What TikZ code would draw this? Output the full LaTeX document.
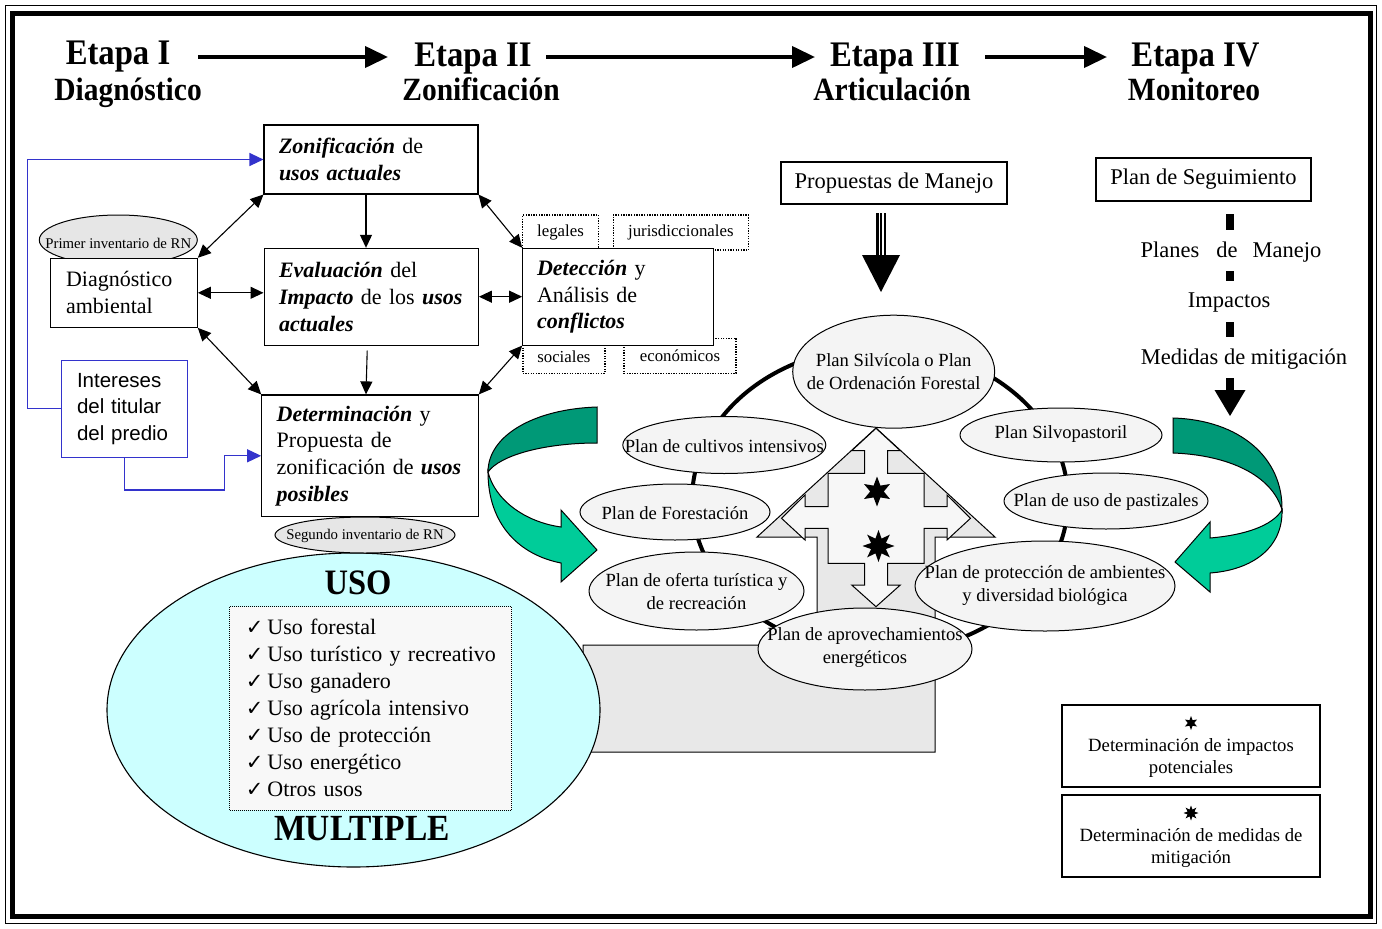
\documentclass[tikz,border=0pt]{standalone}
\usepackage{fontspec}
\setmainfont{Liberation Serif}
\newfontfamily\sansf{Liberation Sans}
\newfontfamily\dejavu{DejaVu Sans}
\usetikzlibrary{arrows.meta,shapes.geometric,calc}
\definecolor{ellfill}{RGB}{244,244,244}
\definecolor{greyfill}{RGB}{232,232,232}
\definecolor{innerfill}{RGB}{247,247,247}
\definecolor{usofill}{RGB}{204,255,255}
\definecolor{listfill}{RGB}{248,248,248}
\definecolor{gdark}{RGB}{0,153,119}
\definecolor{glight}{RGB}{0,204,153}
\definecolor{bl}{RGB}{51,51,204}
\definecolor{invfill}{RGB}{230,230,230}
\newcommand{\fsz}[2]{\fontsize{#1}{#2}\selectfont}
\newcommand{\bitx}[1]{\textbf{\textit{#1}}}
\newcommand{\chkitem}[1]{\mbox{{\dejavu\fsz{21}{21}✓}\hspace{4pt}#1}}
\begin{document}
\begin{tikzpicture}[x=1pt,y=-1pt,
  box/.style={draw, line width=1.1pt, fill=white, rectangle, inner ysep=0pt, align=left},
  ellp/.style={draw, line width=1pt, fill=ellfill},
  plantext/.style={inner sep=0pt, align=center, font=\fsz{18.6}{23}},
  dotbox/.style={draw, dash pattern=on 1.3pt off 1.3pt, line width=1.5pt, fill=white, inner sep=0pt, font=\fsz{16.8}{18}},
  biarr/.style={{Triangle[length=13pt,width=12pt]}-{Triangle[length=13pt,width=12pt]}, line width=1.1pt},
  onearr/.style={-{Triangle[length=13pt,width=12pt]}, line width=1.1pt},
  bluearr/.style={draw=bl, line width=1.2pt, -{Triangle[length=14pt,width=13pt]}},
  headarr/.style={line width=4pt, -{Triangle[length=23pt,width=21pt]}},
  head/.style={anchor=base, inner sep=0pt, font=\bfseries\fsz{32.7}{36}},
  subh/.style={anchor=base, inner sep=0pt, font=\bfseries\fsz{29.5}{33}},
  invell/.style={draw, line width=1pt, fill=invfill},
  invtext/.style={inner sep=0pt, font=\fsz{14.8}{16}},
  plain/.style={inner sep=0pt, font=\fsz{22.5}{25}}
]
\useasboundingbox (0,0) rectangle (1382,929);
\fill[white] (0,0) rectangle (1382,929);
% frame
\draw[line width=1.5pt] (5.5,5.5) rectangle (1376.5,923.5);
\draw[line width=5pt] (12.5,13.5) rectangle (1370,916.5);

% headings
\node[head] (e1) at (118,64) {\scalebox{1}[1.1]{Etapa I}};
\node[subh] (s1) at (128,100) {\scalebox{1}[1.1]{Diagnóstico}};
\node[head] (e2) at (473,66) {\scalebox{1}[1.1]{Etapa II}};
\node[subh] (s2) at (481,100) {\scalebox{1}[1.1]{Zonificación}};
\node[head] (e3) at (895,66) {\scalebox{1}[1.1]{Etapa III}};
\node[subh] (s3) at (892,100) {\scalebox{1}[1.1]{Articulación}};
\node[head] (e4) at (1195.5,66) {\scalebox{1}[1.1]{Etapa IV}};
\node[subh] (s4) at (1194,100) {\scalebox{1}[1.1]{Monitoreo}};
\coordinate (h1a) at (198,57); \coordinate (h1b) at (388,57);
\coordinate (h2a) at (546,57); \coordinate (h2b) at (815,57);
\coordinate (h3a) at (985,57); \coordinate (h3b) at (1107,57);
\draw[headarr] (h1a) -- (h1b);
\draw[headarr] (h2a) -- (h2b);
\draw[headarr] (h3a) -- (h3b);

% left part
\filldraw[invell] (118.3,240) ellipse [x radius=79, y radius=25];
\node[invtext] (inv1) at (118.3,243) {Primer inventario de RN};
\node[box, font=\fsz{22}{27}, text width=116pt, inner xsep=15.3pt, minimum height=69pt] (diag) at (124,292.8) {Diagnóstico\\ambiental};
\node[box, draw=bl, font=\sansf\fsz{20.5}{26.5}, text width=95pt, inner xsep=15.3pt, minimum height=97.3pt] (int) at (124.5,408.7) {Intereses\\del titular\\del predio};
\node[box, font=\fsz{22}{27}, text width=184pt, inner xsep=15pt, minimum height=69pt] (zon) at (371,159.5) {\bitx{Zonificación} de\\\bitx{usos actuales}};
\node[box, font=\fsz{22}{27}, text width=184.3pt, inner xsep=15pt, minimum height=96.7pt] (eval) at (371.2,296.7) {\bitx{Evaluación} del\\\mbox{\bitx{Impacto} de los \bitx{usos}}\\\bitx{actuales}};
\node[box, font=\fsz{22}{26.7}, text width=186.6pt, inner xsep=15pt, minimum height=121.7pt] (det) at (370,455.8) {\bitx{Determinación} y\\Propuesta de\\\mbox{zonificación de \bitx{usos}}\\\bitx{posibles}};
\node[dotbox, minimum width=75.6pt, minimum height=35pt] (leg) at (560.5,232.5) {legales};
\node[dotbox, minimum width=135pt, minimum height=35pt] (jur) at (680.8,232.5) {jurisdiccionales};
\node[dotbox, minimum width=82.3pt, minimum height=33.3pt] (soc) at (563.9,356.7) {sociales};
\node[dotbox, minimum width=112pt, minimum height=35pt] (eco) at (680,355.8) {económicos};
\node[box, font=\fsz{22}{26.7}, text width=162pt, inner xsep=14.3pt, minimum height=96.7pt] (detc) at (618,296.7) {\bitx{Detección} y\\Análisis de\\\bitx{conflictos}};

\draw[onearr] ([xshift=-5pt]zon.south) -- ([xshift=-5pt]zon.south |- eval.north);
\draw[onearr] ([xshift=-4pt,yshift=-5pt]eval.south) -- ([xshift=-4pt]det.north);
\draw[biarr] (diag.north east) -- (zon.south west);
\draw[biarr] (diag.east) -- (diag.east -| eval.west);
\draw[biarr] (diag.south east) -- (det.north west);
\draw[biarr] (zon.south east) -- (detc.north west);
\draw[biarr] (eval.east) -- (eval.east -| detc.west);
\draw[biarr] (det.north east) -- (detc.south west);
\draw[bluearr] (int.west) -- ++(-33.4,0) |- (zon.west);
\draw[bluearr] (int.south) |- (224.3,490) |- (det.west);

% central house
\filldraw[fill=greyfill, line width=1pt] (757,537) -- (876,428) -- (995,537) -- (935,537) -- (935,752) -- (583,752) -- (583,645) -- (817,645) -- (817,537) -- cycle;
\filldraw[fill=innerfill, line width=1pt] (876,428.3) -- (851.7,450.7) -- (864.5,450.7) -- (864.5,473.3) -- (828,473.3) -- (828,506.7) -- (805,506.7) -- (805,495) -- (781.5,518.3) -- (805,540) -- (805,528.3) -- (828,528.3) -- (828,563.3) -- (864.5,563.3) -- (864.5,585) -- (851.7,585) -- (876,606.7) -- (900.3,585) -- (887.5,585) -- (887.5,563.3) -- (924,563.3) -- (924,528.3) -- (947,528.3) -- (947,540) -- (970.5,518.3) -- (947,495) -- (947,506.7) -- (924,506.7) -- (924,473.3) -- (887.5,473.3) -- (887.5,450.7) -- (900.3,450.7) -- cycle;
\node[star, star points=6, star point ratio=2.2, fill=black, inner sep=0pt, minimum size=30pt] (st1) at (877,491.5) {};
\node[star, star points=8, star point ratio=2.0, fill=black, inner sep=0pt, minimum size=32pt] (st2) at (878.5,546) {};
\draw[line width=4pt] (880,500) ellipse [x radius=188, y radius=153];

\filldraw[ellp] (893.7,371.7) ellipse [x radius=101, y radius=56.5];
\node[plantext] (silv) at (893.7,372) {Plan Silvícola o Plan\\de Ordenación Forestal};
\filldraw[ellp] (724.3,445) ellipse [x radius=101.5, y radius=28.5];
\node[plantext] (cult) at (724.3,446) {Plan de cultivos intensivos};
\filldraw[ellp] (675,512) ellipse [x radius=95, y radius=28];
\node[plantext] (fore) at (675,513) {Plan de Forestación};
\filldraw[ellp] (696.5,591) ellipse [x radius=107.5, y radius=39];
\node[plantext] (ofer) at (696.5,591.5) {Plan de oferta turística y\\de recreación};
\filldraw[ellp] (865,649) ellipse [x radius=107, y radius=41];
\node[plantext] (apro) at (865,647.5) {Plan de aprovechamientos\\energéticos};
\filldraw[ellp] (1061,435) ellipse [x radius=101, y radius=27];
\node[plantext] (silvo) at (1061,434) {Plan Silvopastoril};
\filldraw[ellp] (1106,501) ellipse [x radius=102, y radius=28];
\node[plantext] (past) at (1106,502) {Plan de uso de pastizales};
\filldraw[ellp] (1045,586) ellipse [x radius=130, y radius=45];
\node[plantext] (prot) at (1045,586) {Plan de protección de ambientes\\y diversidad biológica};

% uso multiple
\filldraw[draw, fill=usofill, line width=1.1pt] (353.5,710) ellipse [x radius=246.5, y radius=157];
\filldraw[invell] (365,535) ellipse [x radius=90, y radius=18];
\node[invtext] (inv2) at (365,535.5) {Segundo inventario de RN};
\node[draw, dash pattern=on 1pt off 1pt, line width=0.9pt, fill=listfill, text width=250pt, inner xsep=16pt, inner ysep=0pt, minimum height=203.3pt, align=left, font=\fsz{22}{27}] (lst) at (370.8,708.3) {\chkitem{Uso forestal}\\\chkitem{Uso turístico y recreativo}\\\chkitem{Uso ganadero}\\\chkitem{Uso agrícola intensivo}\\\chkitem{Uso de protección}\\\chkitem{Uso energético}\\\chkitem{Otros usos}};
\node[inner sep=0pt, font=\bfseries\fsz{32.5}{36}] (usot) at (358,582.5) {\scalebox{1}[1.1]{USO}};
\node[inner sep=0pt, font=\bfseries\fsz{33.5}{36}] (mult) at (362,829) {\scalebox{1}[1.1]{MULTIPLE}};

% green arrows
\filldraw[fill=gdark, line width=1pt] (597,407) .. controls (535,409) and (488,435) .. (488,472) .. controls (500,455) and (545,443) .. (597,443) -- cycle;
\filldraw[fill=glight, line width=1pt] (488,472) .. controls (488,525) and (520,555) .. (561,563) -- (561,582) -- (597,550) -- (561,510) -- (561,527) .. controls (525,522) and (495,500) .. (488,472) -- cycle;
\filldraw[fill=gdark, line width=1pt] (1173,418) .. controls (1240,420) and (1283,458) .. (1282,510) .. controls (1272,475) and (1228,455) .. (1173,453) -- cycle;
\filldraw[fill=glight, line width=1pt] (1282,510) .. controls (1283,548) and (1252,570) .. (1210,573) -- (1210,592) -- (1175,562) -- (1210,522) -- (1210,538) .. controls (1245,535) and (1272,526) .. (1282,510) -- cycle;

% articulacion top
\node[box, font=\fsz{22.5}{25}, minimum width=226pt, minimum height=42pt, align=center] (prop) at (894,183) {Propuestas de Manejo};
\coordinate (ta) at (881,213); \coordinate (tb) at (881,256); \coordinate (tc) at (881,292);
\draw[line width=3pt] ([xshift=-3.5pt]ta) -- ([xshift=-3.5pt]tb);
\draw[line width=1.3pt] (ta) -- (tb);
\draw[line width=2.5pt] ([xshift=3.8pt]ta) -- ([xshift=3.8pt]tb);
\fill ([xshift=-19pt,yshift=1pt]tb) -- ([xshift=19pt,yshift=1pt]tb) -- (tc) -- cycle;

% monitoreo
\node[box, font=\fsz{22.5}{25}, minimum width=215pt, minimum height=43pt, align=center] (seg) at (1203.5,179.5) {Plan de Seguimiento};
\node[plain] (pm) at (1231,252) {Planes\hspace{17pt}de\hspace{15pt}Manejo};
\node[plain] (imp) at (1229,303) {Impactos};
\node[plain] (med) at (1244,359) {Medidas de mitigación};
\coordinate (d1a) at (1230,214); \coordinate (d1b) at (1230,230);
\coordinate (d2a) at (1230,271); \coordinate (d2b) at (1230,281);
\coordinate (d3a) at (1230,322); \coordinate (d3b) at (1230,337);
\coordinate (d4a) at (1230,378); \coordinate (d4b) at (1230,390); \coordinate (d4c) at (1230,416);
\draw[line width=8pt] (d1a) -- (d1b);
\draw[line width=8pt] (d2a) -- (d2b);
\draw[line width=8pt] (d3a) -- (d3b);
\draw[line width=8pt] (d4a) -- (d4b);
\fill ([xshift=-15.5pt]d4b) -- ([xshift=15.5pt]d4b) -- (d4c) -- cycle;

% legend
\node[box, minimum width=258pt, minimum height=82pt] (lg1) at (1191,746) {};
\node[star, star points=6, star point ratio=2.2, fill=black, inner sep=0pt, minimum size=14pt] (ls1) at (1191,723) {};
\node[inner sep=0pt, align=center, font=\fsz{18.7}{22}] (lt1) at (1191,758) {Determinación de impactos\\potenciales};
\node[box, minimum width=258pt, minimum height=82pt] (lg2) at (1191,836) {};
\node[star, star points=8, star point ratio=2.0, fill=black, inner sep=0pt, minimum size=15pt] (ls2) at (1191,813) {};
\node[inner sep=0pt, align=center, font=\fsz{18.7}{22}] (lt2) at (1191,848) {Determinación de medidas de\\mitigación};
\end{tikzpicture}
\end{document}
